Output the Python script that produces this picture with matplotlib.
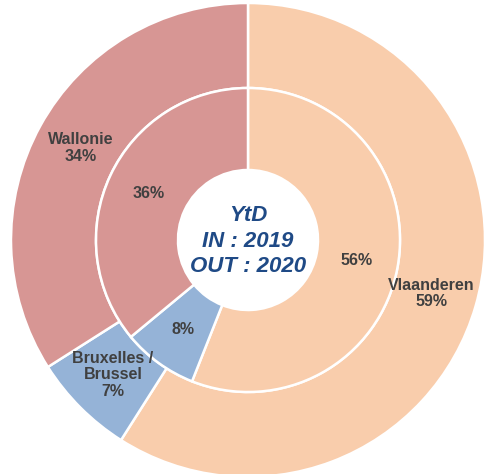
import numpy as np
import matplotlib.pyplot as plt

regions = ['Vlaanderen', 'Bruxelles /\nBrussel', 'Wallonie']
outer_pct = [59, 7, 34]   # OUT : 2020
inner_pct = [56, 8, 36]   # IN : 2019
colors = ['#F9CDAC', '#95B3D7', '#D79694']

plt.rcParams['font.family'] = ['Liberation Sans', 'DejaVu Sans']

fig = plt.figure(figsize=(4.91, 4.74), dpi=100)
ax = fig.add_axes([0, 0, 1, 1])
R = 237.0
cx, cy = 248.0, 240.0

wedge = dict(edgecolor='white', linewidth=1.8)
ax.pie(outer_pct, radius=1.0, colors=colors, startangle=90, counterclock=False,
       wedgeprops=dict(width=1.0 - 152 / R, **wedge))
ax.pie(inner_pct, radius=152 / R, colors=colors, startangle=90, counterclock=False,
       wedgeprops=dict(width=(152 - 70) / R, **wedge))


def put(vals, labels, rad):
    start = 90.0
    for v, lab in zip(vals, labels):
        mid = np.deg2rad(start - v / 100 * 360 / 2)
        ax.text(rad * np.cos(mid), rad * np.sin(mid), lab, ha='center', va='center',
                fontsize=11.5, fontweight='bold', color='#404040', linespacing=1.1)
        start -= v / 100 * 360


put(outer_pct, [f'{r}\n{p}%' for r, p in zip(regions, outer_pct)], 0.805)
put(inner_pct, [f'{p}%' for p in inner_pct], 0.465)

ax.text(0, -0.005, 'YtD\nIN : 2019\nOUT : 2020', ha='center', va='center', fontsize=16,
        fontweight='bold', fontstyle='italic', color='#1F4A86', linespacing=1.3)

ax.set_xlim(-cx / R, (491 - cx) / R)
ax.set_ylim(-(474 - cy) / R, cy / R)
ax.set_aspect('equal')
ax.axis('off')

fig.savefig('out.png', dpi=100)
